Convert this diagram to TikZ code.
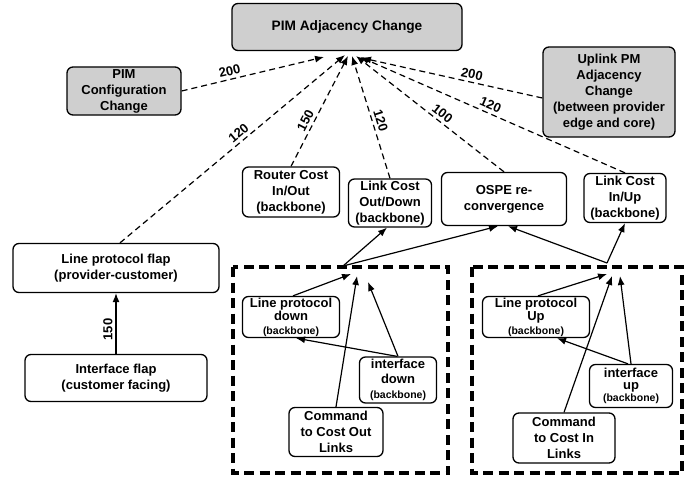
\documentclass[tikz,border=0pt]{standalone}
\usepackage{fontspec}
\setmainfont{Liberation Sans}
\usetikzlibrary{arrows.meta}

\begin{document}
\begin{tikzpicture}[x=1pt,y=-1pt,
  box/.style={draw, line width=1.3pt, rounded corners=6pt, fill=white,
    align=center, inner sep=1pt, font=\bfseries\fontsize{13}{16}\selectfont},
  grey/.style={box, fill=black!19},
  tight/.style={font=\bfseries\fontsize{13}{13.5}\selectfont},
  link/.style={line width=1.2pt, -{Latex[length=9pt,width=7pt]}},
  cost/.style={link, dash pattern=on 6pt off 4pt},
  lbl/.style={font=\bfseries\fontsize{13}{13}\selectfont, inner sep=3pt},
  group/.style={line width=3.6pt, dash pattern=on 10pt off 5.5pt}]
\useasboundingbox (0,0) rectangle (692,476);

% event groups
\draw[group] (233,267) rectangle (448,473);
\draw[group] (472,267) rectangle (682,473);

% top-level events
\node[grey, minimum width=230pt, minimum height=47pt, font=\bfseries\fontsize{13.7}{16}\selectfont] (adj) at (347,27) {PIM Adjacency Change};
\node[grey, minimum width=114pt, minimum height=48pt] (cfg) at (124,91) {PIM\\Configuration\\Change};
\node[grey, minimum width=132pt, minimum height=90pt] (upl) at (609,92) {Uplink PM\\Adjacency\\Change\\(between provider\\edge and core)};

% causes
\node[box, minimum width=97pt, minimum height=50pt] (rco) at (291,192) {Router Cost\\In/Out\\(backbone)};
\node[box, minimum width=83pt, minimum height=48pt] (lco) at (390,203) {Link Cost\\Out/Down\\(backbone)};
\node[box, minimum width=125pt, minimum height=53pt] (osp) at (504,199) {OSPE re-\\convergence};
\node[box, minimum width=82pt, minimum height=49pt] (lci) at (625,198) {Link Cost\\In/Up\\(backbone)};
\node[box, minimum width=206pt, minimum height=49pt] (lpf) at (116,268) {Line protocol flap\\(provider-customer)};
\node[box, minimum width=182pt, minimum height=47pt] (ifl) at (116,378) {Interface flap\\(customer facing)};

% backbone down group
\node[box, tight, minimum width=97pt, minimum height=41pt] (lpd) at (291,317) {Line protocol\\down\\{\fontsize{10.5}{11}\selectfont (backbone)}};
\node[box, tight, minimum width=77pt, minimum height=46pt, font=\bfseries\fontsize{13}{15}\selectfont] (idn) at (398,380) {interface\\down\\{\fontsize{10.5}{11}\selectfont (backbone)}};
\node[box, minimum width=94pt, minimum height=49pt] (cco) at (336,432) {Command\\to Cost Out\\Links};

% backbone up group
\node[box, tight, minimum width=107pt, minimum height=41pt] (lpu) at (536,317) {Line protocol\\Up\\{\fontsize{10.5}{11}\selectfont (backbone)}};
\node[box, minimum width=83pt, minimum height=43pt, font=\bfseries\fontsize{13}{12}\selectfont] (iup) at (631,386) {interface\\up\\{\fontsize{10.5}{11}\selectfont (backbone)}};
\node[box, minimum width=102pt, minimum height=50pt] (cci) at (564,438) {Command\\to Cost In\\Links};

% arrow ends under the top event
\coordinate (a1) at (324,57);
\coordinate (a2) at (345,55);
\coordinate (a3) at (348,56);
\coordinate (a4) at (352,56);
\coordinate (a5) at (356,56);
\coordinate (a6) at (360,57);
\coordinate (a7) at (362,58);

% group outlets and inlets
\coordinate (jL) at (343,266);
\coordinate (jR) at (607,263);
\coordinate (L1) at (351,274);
\coordinate (L2) at (357,276);
\coordinate (L3) at (368,282);
\coordinate (R1) at (607,274);
\coordinate (R2) at (612,276);
\coordinate (R3) at (620,276);

% weighted dashed links
\draw[cost] (cfg.east) -- node[lbl, sloped, above, pos=0.35] {200} (a1);
\draw[cost] ([xshift=4pt]lpf.north) -- node[lbl, sloped, above, pos=0.55] {120} (a2);
\draw[cost] (rco.north) -- node[lbl, sloped, above, pos=0.38] {150} (a3);
\draw[cost] (lco.north) -- node[lbl, sloped, above, pos=0.45] {120} (a4);
\draw[cost] (osp.north) -- node[lbl, sloped, above, pos=0.45] {100} (a5);
\draw[cost] (lci.north) -- node[lbl, sloped, above, pos=0.52] {120} (a6);
\draw[cost] ([yshift=-6pt]upl.west) -- node[lbl, sloped, above, pos=0.4] {200} (a7);

% customer side
\draw[link] (ifl.north) -- node[lbl, sloped, above, pos=0.4] {150} (lpf.south);

% group outputs
\draw[link] (jL) -- ([xshift=-3pt]lco.south);
\draw[link] (jL) -- ([xshift=-6pt]osp.south);
\draw[link] (jR) -- ([xshift=4pt]osp.south);
\draw[link] (jR) -- (lci.south);

% inside the down group
\draw[link] ([xshift=2pt]lpd.north) -- (L1);
\draw[link] (cco.north) -- (L2);
\draw[link] (idn.north) -- (L3);
\draw[link] ([xshift=-1pt]idn.north) -- ([xshift=5pt]lpd.south);

% inside the up group
\draw[link] ([xshift=2pt]lpu.north) -- (R1);
\draw[link] (cci.north) -- (R2);
\draw[link] (iup.north) -- (R3);
\draw[link] ([xshift=-3pt]iup.north) -- ([xshift=21pt]lpu.south);
\end{tikzpicture}
\end{document}
